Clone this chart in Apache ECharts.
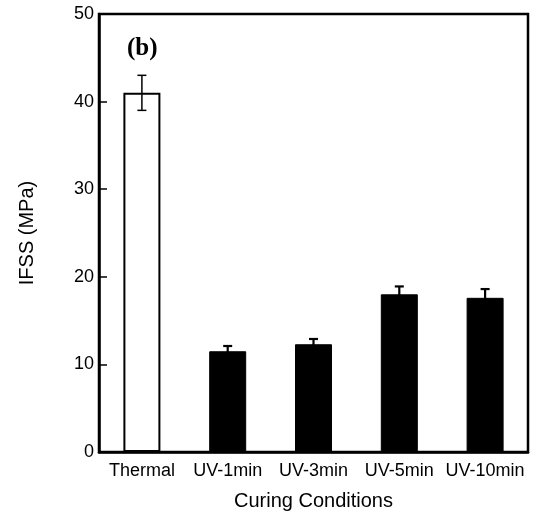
<!DOCTYPE html>
<html>
<head>
<meta charset="utf-8">
<script src="https://cdn.jsdelivr.net/npm/echarts@6/dist/echarts.min.js"></script>
<style>html,body{margin:0;padding:0;background:#fff;}#c{width:534px;height:516px;}</style>
</head>
<body>
<div id="c"></div>
<script>
const categories = ['Thermal', 'UV-1min', 'UV-3min', 'UV-5min', 'UV-10min'];
const ifss = [41.0, 11.5, 12.3, 18.0, 17.6];
const errors = [2.0, 0.6, 0.6, 0.9, 1.0];
const yTicks = [0, 10, 20, 30, 40, 50];

const chart = echarts.init(document.getElementById('c'));
const font = 'Liberation Sans, Arial, sans-serif';

chart.setOption({
  backgroundColor: '#fff',
  animation: false,
  grid: { left: 99, right: 6, top: 14, bottom: 60, show: true, borderColor: '#000', borderWidth: 2.5, backgroundColor: 'transparent' },
  xAxis: {
    type: 'category',
    data: categories,
    name: 'Curing Conditions',
    nameLocation: 'middle',
    nameGap: 39,
    nameTextStyle: { fontFamily: font, fontSize: 20, color: '#000' },
    axisLine: { show: true, lineStyle: { color: '#000', width: 2.5 } },
    axisTick: { show: false },
    axisLabel: { interval: 0, fontFamily: font, fontSize: 18, color: '#000', margin: 10 }
  },
  yAxis: {
    type: 'value',
    min: yTicks[0],
    max: yTicks[yTicks.length - 1],
    interval: 10,
    name: 'IFSS (MPa)',
    nameLocation: 'middle',
    nameGap: 62,
    nameTextStyle: { fontFamily: font, fontSize: 20, color: '#000' },
    axisLine: { show: true, lineStyle: { color: '#000', width: 2.5 } },
    axisTick: { show: true, inside: true, length: 8, lineStyle: { color: '#000', width: 1.5 } },
    axisLabel: { fontFamily: font, fontSize: 18, color: '#000', margin: 5 },
    splitLine: { show: false }
  },
  graphic: [{
    type: 'text',
    left: 127,
    top: 36,
    style: { text: '(b)', font: 'bold 25px "Liberation Serif", "Times New Roman", serif', fill: '#000' }
  }],
  series: [
    {
      type: 'bar',
      barWidth: 37,
      data: ifss.map((v, i) => ({
        value: v,
        itemStyle: i === 0
          ? { color: '#fff', borderColor: '#000', borderWidth: 2 }
          : { color: '#000', borderColor: '#000', borderWidth: 1 }
      })),
      z: 2
    },
    {
      type: 'custom',
      z: 3,
      data: ifss.map((v, i) => [i, v - errors[i], v + errors[i]]),
      renderItem: function (params, api) {
        const x = api.value(0);
        const lo = api.coord([x, api.value(1)]);
        const hi = api.coord([x, api.value(2)]);
        const hw = 4.5;
        const w = params.dataIndex === 0 ? 1.5 : 2.2;
        return {
          type: 'group',
          children: [
            { type: 'line', shape: { x1: hi[0], y1: hi[1], x2: lo[0], y2: lo[1] }, style: { stroke: '#000', lineWidth: w } },
            { type: 'line', shape: { x1: hi[0] - hw, y1: hi[1], x2: hi[0] + hw, y2: hi[1] }, style: { stroke: '#000', lineWidth: w } },
            { type: 'line', shape: { x1: lo[0] - hw, y1: lo[1], x2: lo[0] + hw, y2: lo[1] }, style: { stroke: '#000', lineWidth: w } }
          ]
        };
      }
    }
  ]
});
</script>
</body>
</html>
